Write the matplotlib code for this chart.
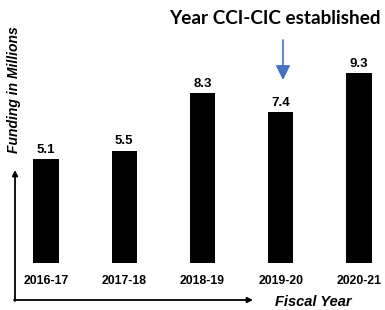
import matplotlib.pyplot as plt

years = ["2016-17", "2017-18", "2018-19", "2019-20", "2020-21"]
funding = [5.1, 5.5, 8.3, 7.4, 9.3]
value_labels = ["5.1", "5.5", "8.3", "7.4", "9.3"]

W, H = 385, 310
fig = plt.figure(figsize=(W / 100, H / 100), dpi=100)
ax = fig.add_axes([0, 0, 1, 1])

# pixel layout: first bar centre at x=46, spacing 78.25 px; zero line at y=263 from top
step = 78.25
unit = 20.45
ax.set_xlim(-46 / step, (W - 46) / step)
ax.set_ylim(-(H - 263) / unit, 263 / unit)
ax.axis("off")

xs = list(range(len(years)))
ax.bar(xs, funding, width=0.32, color="black")
for x, v, lab in zip(xs, funding, value_labels):
    ax.text(x, v + 0.15, lab, ha="center", va="bottom", fontsize=9.5,
            fontweight="bold", family="Liberation Sans")
for x, lab in zip(xs, years):
    ax.text(x, -0.88, lab, ha="center", va="center", fontsize=8.8,
            fontweight="bold", family="Liberation Sans")

def px(x, y):
    return (x, H - y)

# axis arrows
arrow = dict(arrowstyle="-|>", color="black", lw=1.3, mutation_scale=8,
             shrinkA=0, shrinkB=0)
ax.annotate("", xy=px(15, 170), xytext=px(15, 301), xycoords="figure pixels",
            textcoords="figure pixels", arrowprops=arrow)
ax.annotate("", xy=px(253, 300), xytext=px(14, 300), xycoords="figure pixels",
            textcoords="figure pixels", arrowprops=arrow)

fig.text(14 / W, 1 - 90 / H, "Funding in Millions", rotation=90, ha="center",
         va="center", fontsize=10, fontweight="bold", style="italic",
         family="Liberation Sans")
fig.text(313 / W, 1 - 302 / H, "Fiscal Year", ha="center", va="center",
         fontsize=10.5, fontweight="bold", style="italic",
         family="Liberation Sans")

fig.text(275 / W, 1 - 19 / H, "Year CCI-CIC established", ha="center",
         va="center", fontsize=13.6, fontweight="bold", family="Lato")

ax.annotate("", xy=px(283, 80), xytext=px(283, 40), xycoords="figure pixels",
            textcoords="figure pixels",
            arrowprops=dict(arrowstyle="-|>", color="#4472C4", lw=1.2,
                            mutation_scale=22, shrinkA=0, shrinkB=0))

fig.savefig("out.png", dpi=100)
